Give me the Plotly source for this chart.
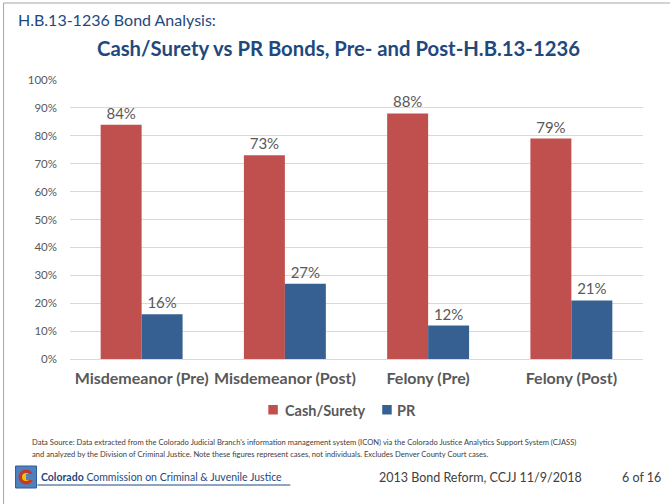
import plotly.graph_objects as go

# Bond type shares by offense class, before and after H.B.13-1236
categories = ["Misdemeanor (Pre)", "Misdemeanor (Post)", "Felony (Pre)", "Felony (Post)"]
series_names = ["Cash/Surety", "PR"]
cash_surety = [0.84, 0.73, 0.88, 0.79]
pr_bonds = [0.16, 0.27, 0.12, 0.21]
y_ticks = [i / 10 for i in range(11)]

W, H = 670, 504
L, R, T, B = 69.5, 27, 80, 145
PW, PH = W - L - R, H - T - B


def px(x):
    return (x - L) / PW


def py(y):
    return (H - B - y) / PH


FONT = "Lato"
RED = "#C0504D"
BLUE = "#376092"
GRAY = "#595959"
NAVY = "#1F497D"
COLORS = [RED, BLUE]

fig = go.Figure()
for name, vals, col in zip(series_names, [cash_surety, pr_bonds], COLORS):
    fig.add_trace(go.Bar(
        name=name, x=categories, y=vals, marker_color=col, marker_line_width=0,
        texttemplate="%{y:.0%}", textposition="outside",
        textfont=dict(size=15, color=GRAY, family=FONT), cliponaxis=False,
        showlegend=False,
    ))

annotations = [
    dict(text="H.B.13-1236 Bond Analysis:", x=px(15), y=py(20), xanchor="left",
         yanchor="middle", font=dict(size=16, color=NAVY, family=FONT)),
    dict(text="<b>Cash/Surety vs PR Bonds, Pre- and Post-H.B.13-1236</b>",
         x=px(338), y=py(48), xanchor="center", yanchor="middle",
         font=dict(size=20.3, color=NAVY, family=FONT)),
    dict(text="Data Source: Data extracted from the Colorado Judicial Branch's information management "
              "system (ICON) via the Colorado Justice Analytics Support System (CJASS)",
         x=px(29), y=py(442), xanchor="left", yanchor="middle",
         font=dict(size=7.6, color="#404040", family=FONT)),
    dict(text="and analyzed by the Division of Criminal Justice. Note these figures represent cases, "
              "not individuals. Excludes Denver County Court cases.",
         x=px(29), y=py(454), xanchor="left", yanchor="middle",
         font=dict(size=7.6, color="#404040", family=FONT)),
    dict(text="<b>Colorado</b> Commission on Criminal &amp; Juvenile Justice",
         x=px(38), y=py(477), xanchor="left", yanchor="middle",
         font=dict(size=10.5, color=NAVY, family=FONT)),
    dict(text="2013 Bond Reform, CCJJ 11/9/2018", x=px(584), y=py(477),
         xanchor="right", yanchor="middle", font=dict(size=12.5, color="#404040", family=FONT)),
    dict(text="6 of 16", x=px(663), y=py(477), xanchor="right", yanchor="middle",
         font=dict(size=12.5, color="#404040", family=FONT)),
]

# legend drawn as colour swatches with labels
legend_swatch_x = [268, 382]
legend_text_x = [283, 395]
shapes = []
for name, col, sx, tx in zip(series_names, COLORS, legend_swatch_x, legend_text_x):
    shapes.append(dict(type="rect", x0=px(sx), x1=px(sx + 9.5), y0=py(405), y1=py(414.5),
                       fillcolor=col, line=dict(width=0)))
    annotations.append(dict(text=f"<b>{name}</b>", x=px(tx), y=py(410), xanchor="left",
                            yanchor="middle", font=dict(size=14.5, color=GRAY, family=FONT)))

for a in annotations:
    a.update(xref="paper", yref="paper", showarrow=False)

shapes += [
    # slide frame
    dict(type="line", x0=px(3), x1=px(3), y0=py(3), y1=py(504), line=dict(color="#A6A6A6", width=1)),
    dict(type="line", x0=px(3), x1=px(670), y0=py(3), y1=py(3), line=dict(color="#A6A6A6", width=1)),
    # footer link underline
    dict(type="line", x0=px(37), x1=px(290), y0=py(485), y1=py(485), line=dict(color=NAVY, width=1)),
    # commission emblem
    dict(type="rect", x0=px(15), x1=px(36), y0=py(466), y1=py(488), fillcolor="#4F81BD",
         line=dict(color="#2E5C9A", width=1)),
    dict(type="circle", x0=px(18), x1=px(33), y0=py(469.5), y1=py(484.5), fillcolor="#C0392B",
         line=dict(width=0)),
    dict(type="circle", x0=px(21.5), x1=px(29.5), y0=py(473), y1=py(481), fillcolor="#F2C300",
         line=dict(width=0)),
    dict(type="rect", x0=px(25.5), x1=px(34), y0=py(474), y1=py(480), fillcolor="#4F81BD",
         line=dict(width=0)),
]
for s in shapes:
    s.update(xref="paper", yref="paper")

fig.update_layout(
    width=W, height=H, barmode="group", bargap=0.428, bargroupgap=0,
    margin=dict(l=L, r=R, t=T, b=B, autoexpand=False),
    paper_bgcolor="white", plot_bgcolor="white",
    font=dict(family=FONT, color=GRAY),
    annotations=annotations, shapes=shapes,
    xaxis=dict(tickfont=dict(size=16, color=GRAY, family=FONT, weight="bold"), ticks="",
               showline=False, ticklabelstandoff=8, automargin=False),
    yaxis=dict(range=[0, 1], tickvals=y_ticks, tickformat=".0%", gridcolor="#D9D9D9",
               gridwidth=1, zeroline=True, zerolinecolor="#D9D9D9", zerolinewidth=1,
               showline=False, ticks="", tickfont=dict(size=11.5, color=GRAY, family=FONT),
               ticklabelstandoff=12, automargin=False),
)

fig.write_html("out.html")
